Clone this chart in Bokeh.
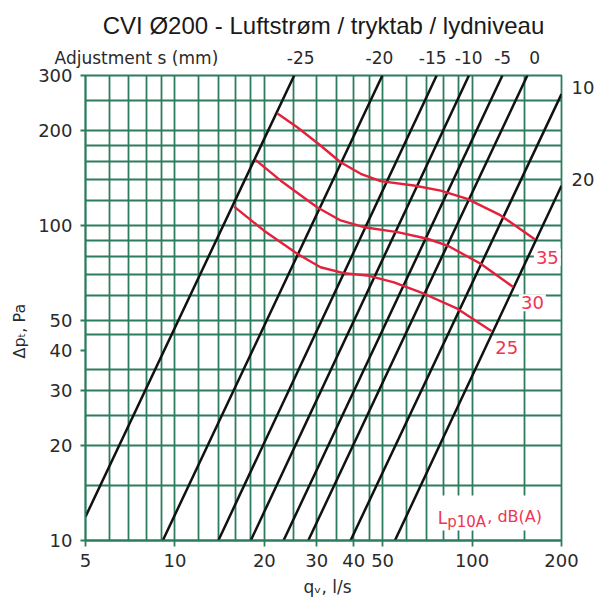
from bokeh.plotting import figure
from bokeh.models import (FixedTicker, Label, BoxAnnotation, Range1d, NumeralTickFormatter,
                          LogAxis, Title)
from bokeh.embed import file_html
from bokeh.resources import INLINE

# ---------------- data ----------------
# Black throttle characteristics: adjustment s (mm) with start/end points (q [l/s], dp [Pa])
adjust_labels = ["-25", "-20", "-15", "-10", "-5", "0", "10", "20"]
line_q_start = [5.0, 9.1, 14.0, 18.0, 23.2, 28.1, 39.0, 55.0]
line_dp_start = [11.9, 10, 10, 10, 10, 10, 10, 10]
line_q_end = [25.2, 49.9, 76.0, 97.6, 126.5, 153.5, 200, 200]
line_dp_end = [300, 300, 300, 300, 300, 300, 262, 134]

# Adjustment labels above the chart (at q) and on its right side (at dp)
top_title = "Adjustment s (mm)"
top_title_q = 7.42
top_labels = ["-25", "-20", "-15", "-10", "-5", "0"]
top_label_q = [26.5, 48.8, 73.7, 97.4, 126.8, 162.5]
right_labels = ["10", "20"]
right_label_dp = [274, 140]

# Sound level curves L_p10A, dB(A)
lp25_q = [15.9, 19.9, 25.8, 30.9, 37.0, 44.4, 54.6, 68.9, 89.2, 115.5]
lp25_dp = [114.5, 96.6, 81.4, 73.8, 70.7, 69.5, 66.1, 60.8, 54.5, 46.5]
lp30_q = [18.8, 22.7, 30.1, 36.1, 43.3, 56.1, 70.7, 82.6, 106.9, 136.7]
lp30_dp = [161, 139, 114.5, 103.9, 98.9, 95.4, 90.9, 86.5, 75.7, 64.1]
lp35_q = [22.2, 25.8, 30.9, 36.1, 42.2, 49.2, 63.7, 78.4, 96.4, 124.9, 161.6]
lp35_dp = [226.7, 205.5, 179.8, 159.1, 146.2, 138.5, 134.2, 129.3, 121.7, 107.8, 90.9]
lp_labels = ["25", "30", "35"]
lp_label_q = [130.8, 159.6, 179.2]
lp_label_dp = [41.1, 56.9, 79.4]

# Axes / grid
x_ticks = [5, 10, 20, 30, 40, 50, 100, 200]
y_ticks = [10, 20, 30, 40, 50, 100, 200, 300]
x_grid = [5, 6, 7, 8, 9, 10, 12, 14, 16, 18, 20, 25, 30, 35, 40, 45, 50, 60, 70, 80, 90, 100, 150, 200]
y_grid = [10, 15, 20, 25, 30, 35, 45, 50, 60, 70, 80, 90, 100, 120, 140, 160, 180, 200, 250, 300]

title_text = "CVI Ø200 - Luftstrøm / tryktab / lydniveau"
x_title = "qᵥ, l/s"
y_title = "Δpₜ, Pa"

# ---------------- styling ----------------
GREEN = "#2b7d5e"
RED = "#e5203c"
RED_TXT = "#ee3552"
INK = "#2a2a2a"
NUM_FONT = "DejaVu Sans"

W, H = 599, 606
FL, FR, FT, FB = 85, 561, 75, 540   # frame edges on the page

p = figure(width=W, height=H, x_axis_type="log", y_axis_type="log",
           x_range=Range1d(5, 200), y_range=Range1d(10, 300),
           output_backend="svg", toolbar_location=None,
           min_border_left=FL, min_border_right=W - FR, min_border_top=FT, min_border_bottom=H - FB)
p.background_fill_color = "white"
p.border_fill_color = "white"
p.outline_line_color = GREEN
p.outline_line_width = 1.8

p.xgrid.ticker = FixedTicker(ticks=x_grid)
p.ygrid.ticker = FixedTicker(ticks=y_grid)
p.grid.grid_line_color = GREEN
p.grid.grid_line_width = 1.8

for ax, ticks in ((p.xaxis, x_ticks), (p.yaxis, y_ticks)):
    ax.ticker = FixedTicker(ticks=ticks)
    ax.formatter = NumeralTickFormatter(format="0")
    ax.axis_line_color = GREEN
    ax.axis_line_width = 1.8
    ax.major_tick_line_color = GREEN
    ax.major_tick_line_width = 1.8
    ax.major_tick_in = 0
    ax.minor_tick_line_color = None
    ax.major_label_text_font = NUM_FONT
    ax.major_label_text_font_size = "18px"
    ax.major_label_text_color = INK
p.xaxis.major_tick_out = 6
p.xaxis.major_label_standoff = 7
p.yaxis.major_tick_out = 5
p.yaxis.major_label_standoff = 8

# top axis: adjustment labels
top_axis = LogAxis(ticker=FixedTicker(ticks=[top_title_q] + top_label_q),
                   major_label_overrides={**{top_title_q: top_title},
                                          **dict(zip(top_label_q, top_labels))},
                   axis_line_color=None, major_tick_line_color=None, minor_tick_line_color=None,
                   major_tick_in=0, major_tick_out=0, major_label_standoff=8,
                   major_label_text_font=NUM_FONT, major_label_text_font_size="17px",
                   major_label_text_color=INK)
p.add_layout(top_axis, "above")

# right axis: adjustment labels of the two lines ending on the right edge
right_axis = LogAxis(ticker=FixedTicker(ticks=right_label_dp),
                     major_label_overrides=dict(zip(right_label_dp, right_labels)),
                     axis_line_color=None, major_tick_line_color=None, minor_tick_line_color=None,
                     major_tick_in=0, major_tick_out=0, major_label_standoff=10,
                     major_label_text_font=NUM_FONT, major_label_text_font_size="18px",
                     major_label_text_color=INK)
p.add_layout(right_axis, "right")

# titles
p.title.text = title_text
p.title.align = "center"
p.title.text_font = "Liberation Sans"
p.title.text_font_size = "24px"
p.title.text_font_style = "normal"
p.title.text_color = "#1a1a1a"
p.title.standoff = 12

p.add_layout(Title(text=y_title, align="left", offset=182, text_font=NUM_FONT,
                   text_font_size="16px", text_font_style="normal", text_color=INK, standoff=14), "left")
p.add_layout(Title(text=x_title, align="left", offset=218, text_font=NUM_FONT,
                   text_font_size="17px", text_font_style="normal", text_color=INK, standoff=10), "below")

# black characteristic lines
xs = [[a, b] for a, b in zip(line_q_start, line_q_end)]
ys = [[a, b] for a, b in zip(line_dp_start, line_dp_end)]
p.multi_line(xs, ys, line_color="#111111", line_width=2.5)

# red sound-level curves
for qv, dp in ((lp25_q, lp25_dp), (lp30_q, lp30_dp), (lp35_q, lp35_dp)):
    p.line(qv, dp, line_color=RED, line_width=2.4, line_join="round", line_cap="round")

# white box behind the legend text
p.add_layout(BoxAnnotation(left=73.7, right=181.0, bottom=10.76, top=13.9,
                           fill_color="white", fill_alpha=1.0, line_alpha=0))

for t, qv, dp in zip(lp_labels, lp_label_q, lp_label_dp):
    p.add_layout(Label(x=qv, y=dp, text=t, text_align="center", text_baseline="middle",
                       text_font=NUM_FONT, text_font_size="18px", text_color=RED_TXT,
                       background_fill_color="white", padding=2))

# legend text L_p10A, dB(A)
p.add_layout(Label(x=76.6, y=11.83, text="L", text_font=NUM_FONT, text_font_size="17px",
                   text_color=RED_TXT, text_baseline="alphabetic"))
p.add_layout(Label(x=82.5, y=11.43, text="p10A", text_font=NUM_FONT, text_font_size="15px",
                   text_color=RED_TXT, text_baseline="alphabetic"))
p.add_layout(Label(x=112.5, y=11.92, text=", dB(A)", text_font=NUM_FONT, text_font_size="16px",
                   text_color=RED_TXT, text_baseline="alphabetic"))

open("out.html", "w").write(file_html(p, INLINE))
